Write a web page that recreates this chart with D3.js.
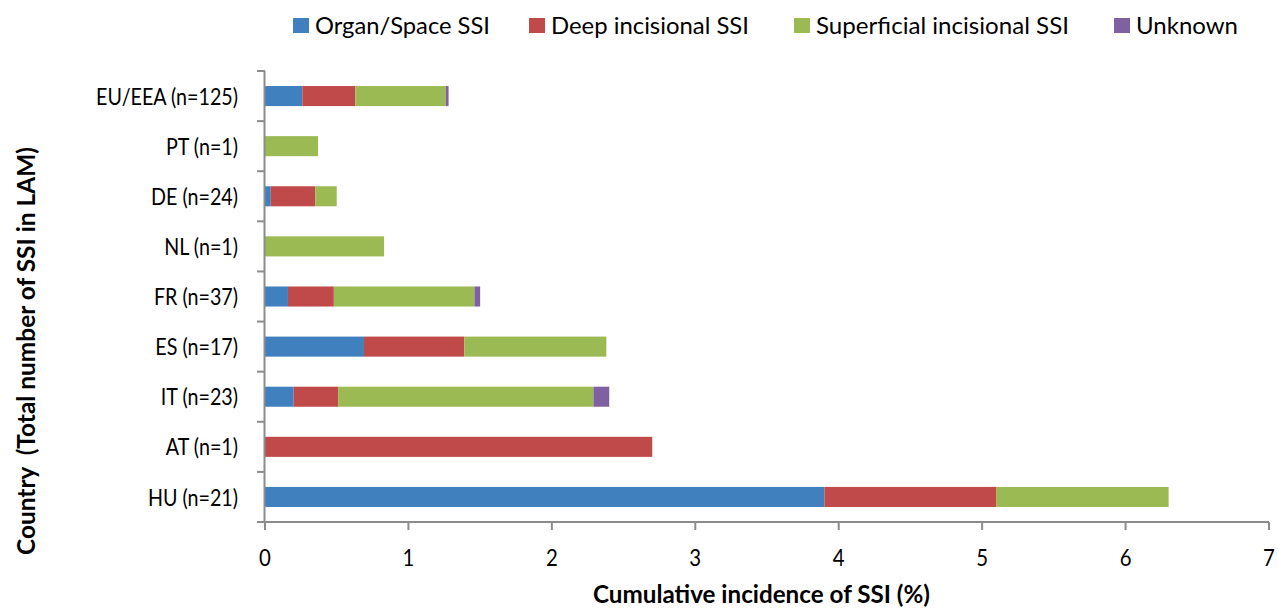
<!DOCTYPE html>
<html>
<head>
<meta charset="utf-8">
<script src="https://cdn.jsdelivr.net/npm/d3@7"></script>
<style>
  body { margin: 0; background: #FFFFFF; }
  svg text { font-family: Lato, "Open Sans", sans-serif; fill: #000; }
</style>
</head>
<body>
<svg width="1278" height="610"></svg>
<script>
//--Data
var countries = ["EU/EEA (n=125)", "PT (n=1)", "DE (n=24)", "NL (n=1)", "FR (n=37)",
                 "ES (n=17)", "IT (n=23)", "AT (n=1)", "HU (n=21)"];
var seriesNames = ["Organ/Space SSI", "Deep incisional SSI", "Superficial incisional SSI", "Unknown"];
var organSpace  = [0.26, 0,    0.04, 0,    0.16, 0.69, 0.20, 0,    3.90];
var deepInc     = [0.37, 0,    0.31, 0,    0.32, 0.70, 0.31, 2.70, 1.20];
var superfInc   = [0.63, 0.37, 0.15, 0.83, 0.98, 0.99, 1.78, 0,    1.20];
var unknown     = [0.02, 0,    0,    0,    0.04, 0,    0.11, 0,    0];
var xTicks = [0, 1, 2, 3, 4, 5, 6, 7];
var colors = ["#4180BF", "#C0494A", "#9BBA53", "#7F60A1"];

//--Shared info
var canvas = {
  left: 265,
  right: 1269,
  top: 71,
  bottom: 522,
  axisColor: "#8C8C8C"
};

//Squeeze text horizontally (the original font is narrower)
function squeeze(sel, factor) {
  sel.each(function() {
    let w = this.getComputedTextLength();
    d3.select(this).attr("textLength", w * factor).attr("lengthAdjust", "spacingAndGlyphs");
  });
}

var rows = countries.map((c, i) => ({
  country: c,
  s0: organSpace[i], s1: deepInc[i], s2: superfInc[i], s3: unknown[i]
}));
var stack = d3.stack().keys(["s0", "s1", "s2", "s3"])(rows);

var x = d3.scaleLinear().domain([0, 7]).range([canvas.left, canvas.right]);
var y = d3.scaleBand().domain(countries).range([canvas.top, canvas.bottom]).paddingInner(0.6).paddingOuter(0.3);
var yTick = d3.scaleBand().domain(countries).range([canvas.top, canvas.bottom]);

let root = d3.select("svg");

//--Bars
root.append("g")
  .selectAll("g")
  .data(stack)
  .join("g")
  .attr("fill", (d, i) => colors[i])
  .selectAll("rect")
  .data(d => d)
  .join("rect")
  .attr("x", d => x(d[0]))
  .attr("y", d => y(d.data.country))
  .attr("width", d => x(d[1]) - x(d[0]))
  .attr("height", y.bandwidth());

//--Y axis
let yAxis = root.append("g");
yAxis.append("line")
  .attr("x1", canvas.left - 0.5).attr("x2", canvas.left - 0.5)
  .attr("y1", canvas.top).attr("y2", canvas.bottom)
  .attr("stroke", canvas.axisColor).attr("stroke-width", 2);
yAxis.selectAll("line.tick")
  .data(countries)
  .join("line")
  .classed("tick", true)
  .attr("x1", canvas.left - 8).attr("x2", canvas.left)
  .attr("y1", d => yTick(d)).attr("y2", d => yTick(d))
  .attr("stroke", canvas.axisColor).attr("stroke-width", 2);
yAxis.selectAll("text")
  .data(countries)
  .join("text")
  .attr("x", 238)
  .attr("y", d => yTick(d) + yTick.bandwidth() / 2)
  .attr("dy", "0.36em")
  .attr("text-anchor", "end")
  .style("font-size", "24px")
  .text(d => d)
  .call(squeeze, 0.82);

//--X axis
let xAxis = root.append("g");
xAxis.append("line")
  .attr("x1", canvas.left - 8).attr("x2", canvas.right)
  .attr("y1", canvas.bottom).attr("y2", canvas.bottom)
  .attr("stroke", canvas.axisColor).attr("stroke-width", 2);
xAxis.selectAll("line.tick")
  .data(xTicks)
  .join("line")
  .classed("tick", true)
  .attr("x1", d => x(d)).attr("x2", d => x(d))
  .attr("y1", canvas.bottom).attr("y2", canvas.bottom + 8)
  .attr("stroke", canvas.axisColor).attr("stroke-width", 2);
xAxis.selectAll("text")
  .data(xTicks)
  .join("text")
  .attr("x", d => x(d))
  .attr("y", 566)
  .attr("text-anchor", "middle")
  .style("font-size", "24px")
  .text(d => d)
  .call(squeeze, 0.85);

//--Titles
root.append("text")
  .attr("x", 593)
  .attr("y", 603)
  .style("font-size", "24px")
  .style("font-weight", "bold")
  .attr("textLength", 337)
  .attr("lengthAdjust", "spacingAndGlyphs")
  .text("Cumulative incidence of SSI (%)");
root.append("text")
  .attr("transform", "translate(35, 555) rotate(-90)")
  .style("font-size", "24px")
  .style("font-weight", "bold")
  .attr("xml:space", "preserve")
  .attr("textLength", 408)
  .attr("lengthAdjust", "spacingAndGlyphs")
  .text("Country  (Total number of SSI in LAM)");

//--Legend
var legendX = [293, 529, 794, 1114];
var legendW = [175, 198, 253, 102];
let legend = root.append("g")
  .selectAll("g")
  .data(seriesNames)
  .join("g")
  .attr("transform", (d, i) => "translate(" + legendX[i] + ", 18)");
legend.append("rect")
  .attr("width", 16).attr("height", 15)
  .attr("fill", (d, i) => colors[i]);
legend.append("text")
  .attr("x", 22).attr("y", 16)
  .style("font-size", "24px")
  .attr("textLength", (d, i) => legendW[i])
  .attr("lengthAdjust", "spacingAndGlyphs")
  .text(d => d);
</script>
</body>
</html>
